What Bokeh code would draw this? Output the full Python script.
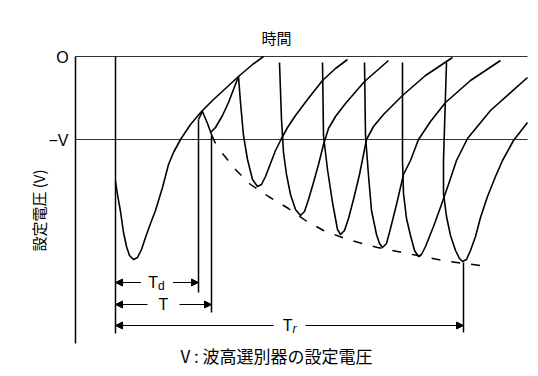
from math import pi
from bokeh.plotting import figure
from bokeh.models import Range1d, ColumnDataSource, Arrow, NormalHead
from bokeh.core.properties import value
from bokeh.embed import file_html
from bokeh.resources import INLINE

# ---- data (time in arbitrary units, voltage in arbitrary units; threshold = -V) ----
zero_level = 0
threshold = -83          # -V : discriminator setting
axis_bottom = -287
t_start, t_end = -40, 412

# first pulse and its recovery envelope
p1_t = [0, 2, 5, 8, 11, 14, 18, 22, 26, 30, 35, 40, 47, 53, 58, 65, 75, 86, 97, 110, 123, 137, 148]
p1_v = [-125, -138, -155, -176, -190, -199, -203, -201, -193, -181, -167, -154, -131, -108, -96, -83, -68, -55, -44, -32, -20, -8, 0]

# small pulse during dead time (at Td)
hook_t = [83, 87, 92, 96, 100]
hook_v = [-63, -55, -67, -78, -87]

# second pulse (starting from the small-pulse undershoot)
p2_t = [95, 100, 107, 113, 123, 125, 128, 132, 137, 142, 146, 150, 155, 160, 166, 172, 180, 192, 207, 220, 232]
p2_v = [-76, -71, -59, -46, -20, -46, -79, -103, -123, -130, -128, -120, -107, -94, -82, -71, -59, -43, -24, -12, -3]

p3_t = [164, 166, 168, 171, 175, 180, 185, 189, 193, 198, 203, 208, 213, 220, 230, 249, 273]
p3_v = [-6, -63, -96, -118, -138, -153, -159, -155, -143, -126, -108, -88, -72, -60, -47, -25, -4]

p4_t = [207, 208, 212, 217, 222, 225, 229, 233, 238, 244, 251, 258, 268, 287, 310, 337]
p4_v = [-6, -79, -113, -146, -173, -178, -174, -162, -143, -118, -83, -70, -58, -39, -19, -1]

p5_t = [249, 250, 253, 256, 261, 264, 267, 271, 275, 281, 288, 295, 303, 315, 330, 355, 385]
p5_v = [-6, -79, -119, -154, -178, -187, -191, -187, -172, -148, -118, -104, -83, -65, -46, -24, -4]

p6_t = [287, 287, 288, 291, 295, 299, 303, 306, 310, 318, 326, 334, 341, 352, 375, 412]
p6_v = [-6, -104, -137, -162, -179, -194, -200, -198, -190, -170, -148, -125, -104, -82, -54, -21]

p7_t = [331, 328, 328, 331, 335, 340, 344, 347, 351, 355, 360, 365, 372, 380, 387, 398, 412]
p7_v = [-6, -104, -137, -160, -179, -194, -202, -205, -203, -194, -180, -161, -140, -120, -104, -84, -66]

# locus of pulse minima (dashed)
min_t = [107, 120, 135, 153, 173, 190, 208, 232, 262, 297, 333, 365]
min_v = [-97, -113, -128, -140, -152, -164, -174, -183, -191, -198, -205, -209]

# time intervals
Td = 83
T = 96
Tr = 348

# ---- figure ----
p = figure(width=538, height=376, output_backend="svg", toolbar_location=None,
           x_range=Range1d(-115, 423), y_range=Range1d(-320, 56),
           x_axis_location=None, y_axis_location=None, min_border=0,
           outline_line_color=None, background_fill_color="white",
           border_fill_color="white")
p.grid.grid_line_color = None

# reference lines and axis
p.segment(x0=[t_start, t_start], y0=[zero_level, threshold],
          x1=[t_end, t_end], y1=[zero_level, threshold],
          line_color="#333333", line_width=1.2)
p.segment(x0=[t_start], y0=[zero_level], x1=[t_start], y1=[axis_bottom],
          line_color="black", line_width=1.5)

# vertical markers
p.segment(x0=[0, Td, T, Tr], y0=[zero_level, -63, -79, -206],
          x1=[0, Td, T, Tr], y1=[-277, -236, -256, -276],
          line_color="black", line_width=1.5)

# pulses
for tt, vv in [(p1_t, p1_v), (hook_t, hook_v), (p2_t, p2_v), (p3_t, p3_v),
               (p4_t, p4_v), (p5_t, p5_v), (p6_t, p6_v), (p7_t, p7_v)]:
    p.line(tt, vv, line_color="black", line_width=1.6, line_join="round")

p.line(min_t, min_v, line_color="black", line_width=1.5, line_dash="9 11")

# interval arrows
rows = [-226, -248, -269]
durs = [Td, T, Tr]
gap = 16
x0, y0, x1, y1 = [], [], [], []
for d, r in zip(durs, rows):
    x0 += [d / 2 - gap, d / 2 + gap]
    x1 += [0, d]
    y0 += [r, r]
    y1 += [r, r]
arrow_src = ColumnDataSource(dict(x0=x0, y0=y0, x1=x1, y1=y1))
p.add_layout(Arrow(end=NormalHead(size=7, fill_color="black", line_color="black", line_width=1),
                   x_start="x0", y_start="y0", x_end="x1", y_end="y1",
                   source=arrow_src, line_color="black", line_width=1.2))

sans = value("Liberation Sans")
cjk = value("Noto Sans CJK JP")

# interval labels
p.text(x=[Td / 2 + 1, T / 2, Tr / 2 + 3], y=rows, text=["T", "T", "T"],
       text_align=["right", "center", "right"], text_baseline="middle",
       text_font=sans, text_font_size=value("16px"), text_color="black")
p.text(x=[Td / 2 + 1, Tr / 2 + 3], y=[rows[0] - 3, rows[2] - 3], text=["d", "r"],
       text_align="left", text_baseline="middle", text_font=sans,
       text_font_size=value("12px"), text_font_style=["normal", "italic"],
       text_color="black")

# level labels
p.text(x=[-53], y=[-1], text=["O"], text_align="center", text_baseline="middle",
       text_font=sans, text_font_size=value("16px"), text_color="black")
p.text(x=[-47], y=[-84], text=["−V"], text_align="right", text_baseline="middle",
       text_font=sans, text_font_size=value("16px"), text_color="black")

# titles
p.text(x=[161], y=[19], text=["時間"], text_align="center", text_baseline="middle",
       text_font=cjk, text_font_size=value("15px"), text_color="black")
p.text(x=[-77], y=[-154], text=["設定電圧 (V)"], angle=pi / 2,
       text_align="center", text_baseline="middle",
       text_font=cjk, text_font_size=value("15px"), text_color="black")
p.text(x=[65], y=[-299], text=["V : 波高選別器の設定電圧"], text_align="left",
       text_baseline="middle", text_font=cjk, text_font_size=value("17px"),
       text_color="black")

open("out.html", "w").write(file_html(p, INLINE))
